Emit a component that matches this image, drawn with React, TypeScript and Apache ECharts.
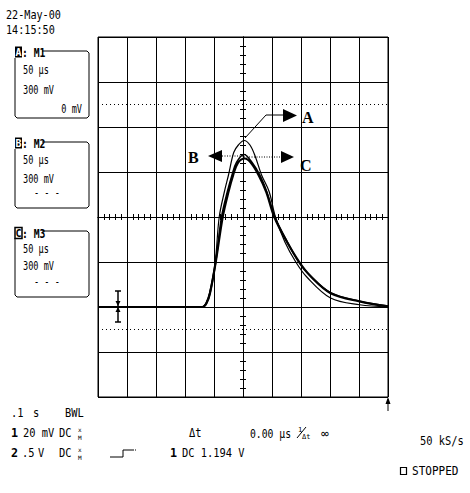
import React, { useEffect, useRef } from "react";
import * as echarts from "echarts";

// time relative to screen centre (µs), 50 µs/div
const timeA = [-250, -70, -64, -58, -48, -41, -32, -25, -16, -8, 2, 12, 21, 32, 45, 56, 72, 91, 110, 151, 201, 250];
const voltA = [-600, -600, -575, -510, -300, 0, 170, 280, 430, 480, 510, 480, 405, 280, 170, 0, -165, -300, -400, -540, -585, -600];

const timeB = [-250, -70, -63, -57, -47, -37, -27, -19, -11, 2, 15, 29, 41, 55, 75, 96, 115, 151, 201, 250];
const voltB = [-600, -600, -575, -510, -300, 0, 168, 279, 366, 417, 366, 279, 168, 0, -156, -300, -390, -504, -561, -594];

const timeC = [-250, -70, -63, -57, -47, -35, -25, -17, -9, 3, 14, 27, 40, 54, 75, 97, 116, 151, 201, 250];
const voltC = [-600, -600, -575, -510, -300, 0, 168, 279, 360, 390, 360, 279, 168, 0, -160, -300, -392, -508, -563, -596];

const dottedLevels = [750, -750];

const xMin = -250, xMax = 250, xStep = 50;
const yMin = -1200, yMax = 1200, yStep = 300;

const traceNames = ["A", "B", "C"];

const MONO = "DejaVu Sans Mono";

function zip(t: number[], v: number[]) {
  return t.map((x, i) => [x, v[i]]);
}

function txt(text: string, x: number, y: number, opts: any = {}) {
  return {
    type: "text",
    x,
    y,
    scaleX: opts.scaleX ?? 0.8,
    silent: true,
    style: {
      text,
      fill: opts.fill ?? "#000",
      font: `${opts.bold ? "bold " : ""}${opts.size ?? 13}px '${opts.family ?? MONO}'`,
      textAlign: opts.align ?? "left",
      align: opts.align ?? "left",
      textVerticalAlign: "middle",
      verticalAlign: "middle",
    },
  };
}

function line(x1: number, y1: number, x2: number, y2: number, w = 1, dash?: number[]) {
  return {
    type: "line",
    silent: true,
    shape: { x1, y1, x2, y2 },
    style: { stroke: "#000", lineWidth: w, lineDash: dash },
  };
}

function poly(points: number[][]) {
  return { type: "polygon", silent: true, shape: { points }, style: { fill: "#000" } };
}

function boxFrame(top: number, bottom: number) {
  return {
    type: "polyline",
    silent: true,
    shape: {
      points: [
        [42, top], [87, top], [89, top + 2], [89, bottom - 2], [87, bottom],
        [17, bottom], [15, bottom - 2], [15, top + 7],
      ],
    },
    style: { stroke: "#000", lineWidth: 1, fill: "none" },
  };
}

function title(letter: string, rest: string, y: number, filled: boolean) {
  return [
    {
      type: "rect",
      silent: true,
      shape: { x: 15, y: y - 5.5, width: 7, height: 11 },
      style: filled ? { fill: "#000" } : { fill: "#fff", stroke: "#000", lineWidth: 1.5 },
    },
    txt(letter, 18.5, y, { bold: true, size: 10, align: "center", scaleX: 1, fill: filled ? "#fff" : "#000" }),
    txt(rest, 22, y, { bold: true, size: 13, scaleX: 0.75 }),
  ];
}

export default function App() {
  const ref = useRef<HTMLDivElement>(null);
  useEffect(() => {
    if (!ref.current) return;
    const chart = echarts.init(ref.current, null, { renderer: "svg" });

    const xAxisBase = {
      type: "value",
      min: xMin,
      max: xMax,
      interval: xStep,
      axisLabel: { show: false },
      axisLine: { show: true, onZero: true, lineStyle: { color: "#000", width: 1 } },
      axisTick: { show: true, length: 3, lineStyle: { color: "#000", width: 1 } },
      minorTick: { show: true, splitNumber: 5, length: 3, lineStyle: { color: "#000", width: 1 } },
    };
    const yAxisBase = {
      type: "value",
      min: yMin,
      max: yMax,
      interval: yStep,
      axisLabel: { show: false },
      axisLine: { show: true, onZero: true, lineStyle: { color: "#000", width: 1 } },
      axisTick: { show: true, length: 3, lineStyle: { color: "#000", width: 1 } },
      minorTick: { show: true, splitNumber: 5, length: 3, lineStyle: { color: "#000", width: 1 } },
    };

    const traces = [zip(timeA, voltA), zip(timeB, voltB), zip(timeC, voltC)];
    const widths = [1.2, 1.6, 2.2];

    const graphic: any[] = [
      txt("22-May-00", 6, 15, { scaleX: 0.78 }),
      txt("14:15:50", 6, 30, { scaleX: 0.78 }),

      boxFrame(51, 118),
      ...title("A", ": M1", 52, true),
      txt("50 µs", 23, 70, { scaleX: 0.66 }),
      txt("300 mV", 23, 90, { scaleX: 0.66 }),
      txt("0 mV", 82, 109, { scaleX: 0.66, align: "right" }),

      boxFrame(142, 208),
      ...title("B", ": M2", 143, true),
      txt("50 µs", 23, 160, { scaleX: 0.66 }),
      txt("300 mV", 23, 179, { scaleX: 0.66 }),
      txt("- - -", 34, 193, { scaleX: 0.66 }),

      boxFrame(231, 297),
      ...title("C", ": M3", 233, false),
      txt("50 µs", 23, 249, { scaleX: 0.66 }),
      txt("300 mV", 23, 266, { scaleX: 0.66 }),
      txt("- - -", 34, 282, { scaleX: 0.66 }),

      // ground marker
      line(118, 291, 118, 322, 1.5),
      line(115, 291, 121, 291, 1.5),
      line(115, 322, 121, 322, 1.5),
      poly([[115.5, 301], [120.5, 301], [118, 306]]),
      poly([[115.5, 312], [120.5, 312], [118, 307]]),

      // trigger arrow
      line(388, 399, 388, 411, 1),
      poly([[385.5, 404], [390.5, 404], [388, 397]]),

      // A annotation
      {
        type: "polyline",
        silent: true,
        shape: { points: [[245, 138], [266, 115], [284, 115]] },
        style: { stroke: "#000", lineWidth: 1, fill: "none" },
      },
      poly([[283, 109], [297, 115.5], [283, 122]]),
      txt(traceNames[0], 302, 117, { family: "Liberation Serif", bold: true, size: 16, scaleX: 1 }),

      // B annotation
      line(243, 156, 221, 156, 1, [1, 1.5]),
      poly([[222, 150], [208, 156], [222, 162]]),
      txt(traceNames[1], 188, 157, { family: "Liberation Serif", bold: true, size: 16, scaleX: 1 }),

      // C annotation
      line(244, 157, 282, 157, 1, [1, 1.5]),
      poly([[281, 151], [294, 157], [281, 163]]),
      txt(traceNames[2], 300, 165, { family: "Liberation Serif", bold: true, size: 16, scaleX: 1 }),

      // bottom status text
      txt(".1", 11, 413),
      txt("s", 33, 413),
      txt("BWL", 65, 413),

      txt("1", 11, 433, { bold: true, scaleX: 0.9 }),
      txt("20 mV", 23, 433),
      txt("DC", 59, 433),
      txt("x", 78, 429, { size: 6, scaleX: 1 }),
      txt("M", 78, 437.5, { size: 6, scaleX: 1 }),

      txt("Δt", 189, 433),
      txt("0.00 µs", 250, 433, { scaleX: 0.75 }),
      txt("1", 298, 429.5, { size: 7, scaleX: 1 }),
      line(297, 438, 306, 427, 1),
      txt("Δt", 302, 437, { size: 7, scaleX: 1 }),
      txt("∞", 321, 433, { scaleX: 1 }),

      txt("50 kS/s", 420, 441),

      txt("2", 11, 453, { bold: true, scaleX: 0.9 }),
      txt(".5", 22, 453),
      txt("V", 38, 453),
      txt("DC", 59, 453),
      txt("x", 78, 449, { size: 6, scaleX: 1 }),
      txt("M", 78, 457.5, { size: 6, scaleX: 1 }),
      {
        type: "polyline",
        silent: true,
        shape: { points: [[110, 457], [123, 457], [123, 450], [133, 450]] },
        style: { stroke: "#000", lineWidth: 1, fill: "none" },
      },
      line(133, 450, 137, 450, 1, [1, 1]),
      txt("1", 170, 453, { bold: true, scaleX: 0.9 }),
      txt("DC 1.194 V", 182, 453),

      {
        type: "rect",
        silent: true,
        shape: { x: 400.5, y: 467.5, width: 6, height: 7 },
        style: { fill: "#fff", stroke: "#000", lineWidth: 1.2 },
      },
      txt("STOPPED", 412, 471, { scaleX: 0.85 }),
    ];

    chart.setOption({
      animation: false,
      backgroundColor: "#fff",
      grid: {
        left: 98,
        top: 37,
        width: 290,
        height: 360,
        show: true,
        borderColor: "#000",
        borderWidth: 1,
        containLabel: false,
      },
      xAxis: [
        {
          ...xAxisBase,
          position: "bottom",
          splitLine: { show: true, lineStyle: { color: "#000", width: 1 } },
        },
        { ...xAxisBase, position: "top", splitLine: { show: false } },
      ],
      yAxis: [
        {
          ...yAxisBase,
          position: "left",
          splitLine: { show: true, lineStyle: { color: "#000", width: 1 } },
        },
        { ...yAxisBase, position: "right", splitLine: { show: false } },
      ],
      series: traces.map((d, i) => ({
        type: "line",
        name: traceNames[i],
        data: d,
        smooth: 0.35,
        showSymbol: false,
        symbol: "none",
        lineStyle: { color: "#000", width: widths[i] },
        z: 5,
        markLine:
          i === 0
            ? {
                silent: true,
                symbol: "none",
                label: { show: false },
                lineStyle: { color: "#000", type: [1, 3], width: 1 },
                data: dottedLevels.map((v) => ({ yAxis: v })),
              }
            : undefined,
      })),
      graphic,
    });
    return () => chart.dispose();
  }, []);

  return (
    <div
      ref={ref}
      style={{ position: "absolute", left: 0, top: 0, width: 470, height: 493, background: "#fff" }}
    />
  );
}
